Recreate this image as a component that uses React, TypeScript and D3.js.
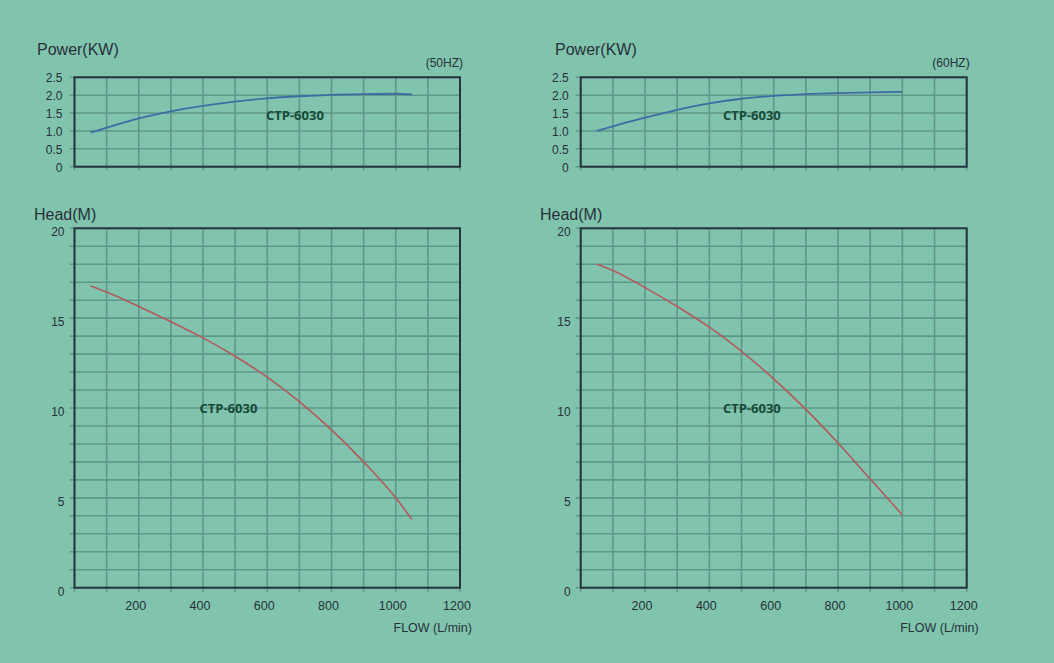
import React from "react";
import * as d3 from "d3";

const W = 1054;
const H = 663;

const flow50 = [50, 100, 200, 300, 400, 500, 600, 700, 800, 900, 1000, 1050];
const power50 = [0.95, 1.09, 1.35, 1.55, 1.7, 1.82, 1.91, 1.97, 2.01, 2.03, 2.04, 2.02];
const head50 = [16.79, 16.45, 15.65, 14.8, 13.9, 12.88, 11.72, 10.35, 8.78, 7.0, 5.0, 3.8];

const flow60 = [50, 100, 200, 300, 400, 500, 600, 700, 800, 900, 1000];
const power60 = [1.0, 1.13, 1.37, 1.59, 1.77, 1.9, 1.98, 2.03, 2.06, 2.08, 2.09];
const head60 = [18.0, 17.65, 16.7, 15.65, 14.5, 13.15, 11.62, 9.92, 8.05, 6.05, 4.05];

const flowTicks = [200, 400, 600, 800, 1000, 1200];
const powerTicks = [0, 0.5, 1.0, 1.5, 2.0, 2.5];
const headTicks = [0, 5, 10, 15, 20];
const modelName = "CTP-6030";

const BG = "#80c4ad";
const GRID = "#5f978b";
const BORDER = "#27333f";
const TEXT = "#27303a";
const LABEL = "#174a38";
const HEAD_COLOR = "#b25a5d";
const POWER_COLOR = "#3d6da3";
const FONT = "'Liberation Sans', Arial, sans-serif";

type PanelProps = {
  x0: number;
  x1: number;
  flow: number[];
  power: number[];
  head: number[];
  hz: string;
  powerTitleX: number;
  headTitleX: number;
  powerLabel: [number, number];
  headLabel: [number, number];
};

const Panel = ({ x0, x1, flow, power, head, hz, powerTitleX, headTitleX, powerLabel, headLabel }: PanelProps) => {
  const x = d3.scaleLinear().domain([0, 1200]).range([x0, x1]);
  const yP = d3.scaleLinear().domain([0, 2.5]).range([166.7, 77.3]);
  const yH = d3.scaleLinear().domain([0, 20]).range([587.7, 228.3]);

  const colTicks = d3.range(0, 1201, 100);
  const pRows = d3.range(0, 2.51, 0.5);
  const hRows = d3.range(0, 21, 1);

  const powerLine = d3
    .line<number>()
    .x((_, i) => x(flow[i]))
    .y((d) => yP(d))
    .curve(d3.curveMonotoneX);
  const headLine = d3
    .line<number>()
    .x((_, i) => x(flow[i]))
    .y((d) => yH(d))
    .curve(d3.curveMonotoneX);

  const grid = (y: d3.ScaleLinear<number, number>, rows: number[]) => (
    <g>
      {colTicks.map((t) => (
        <line key={"v" + t} x1={x(t)} x2={x(t)} y1={y.range()[1]} y2={y.range()[0] + 4} stroke={GRID} strokeWidth={1.6} />
      ))}
      {rows.map((r) => (
        <line key={"h" + r} x1={x0 - 5} x2={x1} y1={y(r)} y2={y(r)} stroke={GRID} strokeWidth={1.6} />
      ))}
      <rect
        x={x0}
        y={y.range()[1]}
        width={x1 - x0}
        height={y.range()[0] - y.range()[1]}
        fill="none"
        stroke={BORDER}
        strokeWidth={2}
      />
    </g>
  );

  return (
    <g>
      {/* power chart */}
      <text x={powerTitleX} y={55} fontSize={16} fill={TEXT}>Power(KW)</text>
      <text x={x1 + 3} y={67} fontSize={12} fill={TEXT} textAnchor="end">{hz}</text>
      {grid(yP, pRows)}
      {powerTicks.map((t) => (
        <text key={t} x={x0 - 12} y={yP(t) + 5} fontSize={12} fill={TEXT} textAnchor="end">
          {t === 0 ? "0" : t.toFixed(1)}
        </text>
      ))}
      <path d={powerLine(power) || ""} fill="none" stroke={POWER_COLOR} strokeWidth={1.8} />
      <text
        x={x(powerLabel[0])}
        y={yP(powerLabel[1]) + 4.5}
        fontSize={13}
        fontWeight="bold"
        fontFamily="'Open Sans', sans-serif"
        fill={LABEL}
        textAnchor="middle"
      >
        {modelName}
      </text>

      {/* head chart */}
      <text x={headTitleX} y={220} fontSize={16} fill={TEXT}>Head(M)</text>
      {grid(yH, hRows)}
      {headTicks.map((t) => (
        <text key={t} x={x0 - 10} y={yH(t) + 8} fontSize={12} fill={TEXT} textAnchor="end">
          {t}
        </text>
      ))}
      {flowTicks.map((t) => (
        <text key={t} x={x(t) - 3} y={610} fontSize={12.5} fill={TEXT} textAnchor="middle">
          {t}
        </text>
      ))}
      <text x={x1 + 12} y={632} fontSize={12.5} fill={TEXT} textAnchor="end">FLOW (L/min)</text>
      <path d={headLine(head) || ""} fill="none" stroke={HEAD_COLOR} strokeWidth={1.6} />
      <text
        x={x(headLabel[0])}
        y={yH(headLabel[1]) + 4.5}
        fontSize={13}
        fontWeight="bold"
        fontFamily="'Open Sans', sans-serif"
        fill={LABEL}
        textAnchor="middle"
      >
        {modelName}
      </text>
    </g>
  );
};

export default function App() {
  return (
    <svg
      width={W}
      height={H}
      style={{ position: "absolute", left: 0, top: 0, display: "block" }}
      fontFamily={FONT}
    >
      <rect x={0} y={0} width={W} height={H} fill={BG} />
      <Panel
        x0={74.5}
        x1={460}
        flow={flow50}
        power={power50}
        head={head50}
        hz="(50HZ)"
        powerTitleX={37}
        headTitleX={34}
        powerLabel={[686, 1.42]}
        headLabel={[479, 10]}
      />
      <Panel
        x0={580.7}
        x1={966.7}
        flow={flow60}
        power={power60}
        head={head60}
        hz="(60HZ)"
        powerTitleX={555}
        headTitleX={540}
        powerLabel={[532, 1.42]}
        headLabel={[532, 10]}
      />
    </svg>
  );
}
